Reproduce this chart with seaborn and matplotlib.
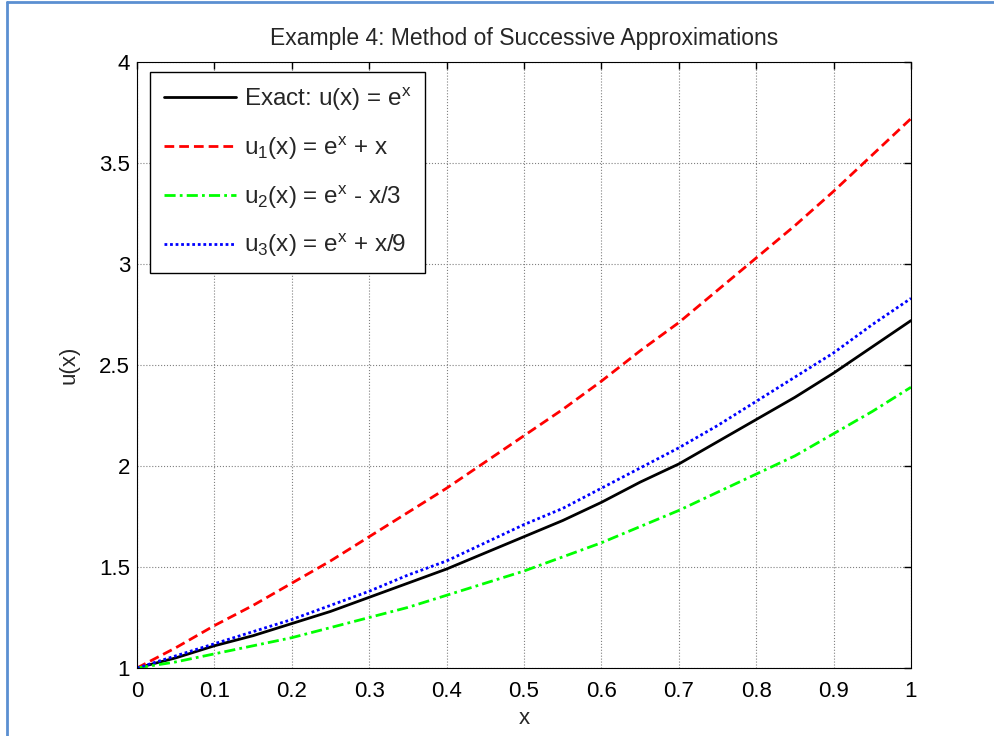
import numpy as np
import pandas as pd
import matplotlib
matplotlib.use("Agg")
import matplotlib.pyplot as plt
import seaborn as sns
from matplotlib.lines import Line2D

x_vals = [0.00, 0.05, 0.10, 0.15, 0.20, 0.25, 0.30, 0.35, 0.40, 0.45, 0.50,
          0.55, 0.60, 0.65, 0.70, 0.75, 0.80, 0.85, 0.90, 0.95, 1.00]
exact = [1.00, 1.05, 1.11, 1.16, 1.22, 1.28, 1.35, 1.42, 1.49, 1.57, 1.65,
         1.73, 1.82, 1.92, 2.01, 2.12, 2.23, 2.34, 2.46, 2.59, 2.72]
u1 = [1.00, 1.10, 1.21, 1.31, 1.42, 1.53, 1.65, 1.77, 1.89, 2.02, 2.15,
      2.28, 2.42, 2.57, 2.71, 2.87, 3.03, 3.19, 3.36, 3.54, 3.72]
u2 = [1.00, 1.03, 1.07, 1.11, 1.15, 1.20, 1.25, 1.30, 1.36, 1.42, 1.48,
      1.55, 1.62, 1.70, 1.78, 1.87, 1.96, 2.05, 2.16, 2.27, 2.39]
u3 = [1.00, 1.06, 1.12, 1.18, 1.24, 1.31, 1.38, 1.46, 1.53, 1.62, 1.71,
      1.79, 1.89, 1.99, 2.09, 2.20, 2.32, 2.44, 2.56, 2.70, 2.83]

labels = [r'Exact: u(x) = e$^{x}$',
          r'u$_{1}$(x) = e$^{x}$ + x',
          r'u$_{2}$(x) = e$^{x}$ - x/3',
          r'u$_{3}$(x) = e$^{x}$ + x/9']
colors = ['#000000', '#ff0000', '#00ff00', '#0000ff']
styles = ['-', (0, (3.5, 1.8)), (0, (4, 1.5, 1, 1.5)), (0, (1, 1))]
title = 'Example 4: Method of Successive Approximations'
xticks = [0, 0.1, 0.2, 0.3, 0.4, 0.5, 0.6, 0.7, 0.8, 0.9, 1]
xtick_labels = ['0', '0.1', '0.2', '0.3', '0.4', '0.5', '0.6', '0.7', '0.8', '0.9', '1']
yticks = [1, 1.5, 2, 2.5, 3, 3.5, 4]
ytick_labels = ['1', '1.5', '2', '2.5', '3', '3.5', '4']

sns.set_style('white')
plt.rcParams['font.family'] = ['Liberation Sans', 'DejaVu Sans']
plt.rcParams['mathtext.fontset'] = 'custom'
plt.rcParams['mathtext.rm'] = 'Liberation Sans'
plt.rcParams['mathtext.it'] = 'Liberation Sans'
plt.rcParams['mathtext.bf'] = 'Liberation Sans:bold'

fig = plt.figure(figsize=(9.95, 7.36), dpi=100)
ax = fig.add_axes([137/995, 1-668/736, (911-137)/995, (668-62)/736])

series = [exact, u1, u2, u3]
for ys, lab, c, ls in zip(series, labels, colors, styles):
    df = pd.DataFrame({'x': x_vals, 'y': ys})
    sns.lineplot(data=df, x='x', y='y', ax=ax, color=c, linewidth=2.0,
                 label=lab, linestyle=ls)

ax.set_xlim(0, 1)
ax.set_ylim(1, 4)
ax.set_xticks(xticks)
ax.set_xticklabels(xtick_labels)
ax.set_yticks(yticks)
ax.set_yticklabels(ytick_labels)
ax.tick_params(axis='both', direction='in', length=5, width=1, labelsize=16,
               top=True, right=True, color='black', labelcolor='black')
ax.tick_params(axis='x', pad=9.5)
ax.tick_params(axis='y', pad=5)
ax.grid(True, linestyle=':', color='#808080', linewidth=0.8)
for s in ax.spines.values():
    s.set_visible(True)
    s.set_color('black')
    s.set_linewidth(0.8)
ax.set_title(title, fontsize=16.5, pad=12)
ax.set_xlabel('x', fontsize=16, labelpad=4)
ax.set_ylabel('u(x)', fontsize=16, labelpad=14)

leg = ax.legend(loc='upper left', bbox_to_anchor=(0.017, 0.983), fontsize=17.5,
                frameon=True, fancybox=False, edgecolor='black', framealpha=1,
                handlelength=3.0, labelspacing=0.89, borderpad=0.55,
                handletextpad=0.3, borderaxespad=0)
leg.get_frame().set_linewidth(1.0)

# blue frame around figure
fig.add_artist(Line2D([7/995, 7/995], [0, 1-2/736], transform=fig.transFigure,
                      color='#5b8fd1', linewidth=2))
fig.add_artist(Line2D([7/995, 1], [1-2/736, 1-2/736], transform=fig.transFigure,
                      color='#5b8fd1', linewidth=2))

fig.savefig('out.png', dpi=100)
